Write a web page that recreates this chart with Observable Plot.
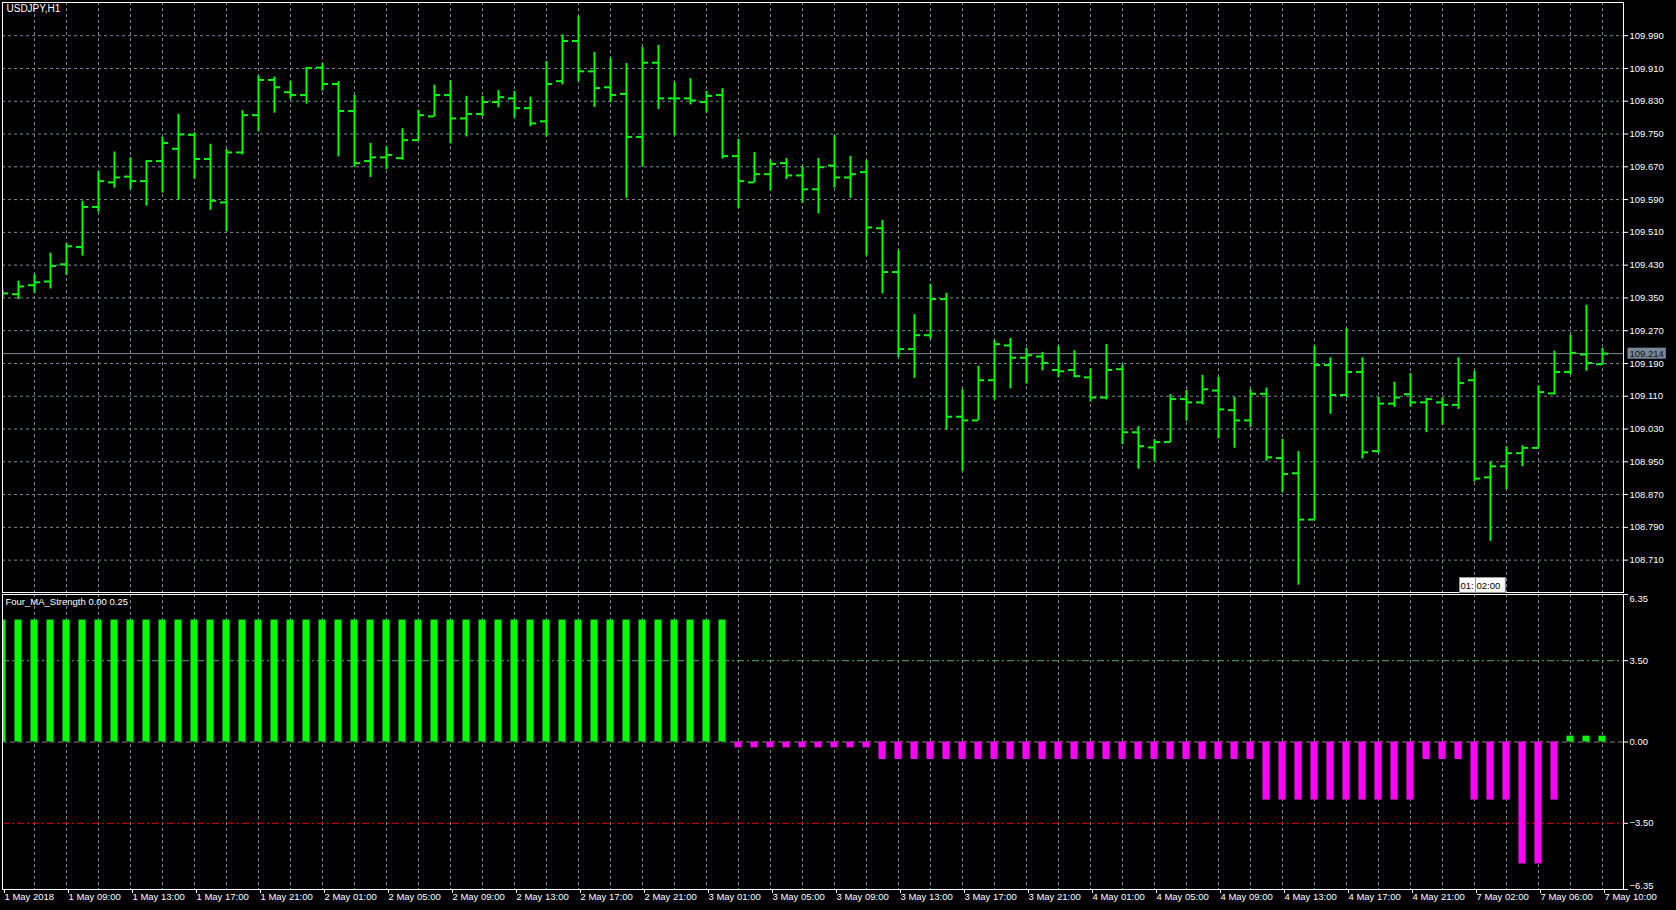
<!DOCTYPE html>
<html>
<head>
<meta charset="utf-8">
<script src="https://cdn.jsdelivr.net/npm/d3@7"></script>
<script src="https://cdn.jsdelivr.net/npm/@observablehq/plot@0.6"></script>
<style>
html, body { margin: 0; padding: 0; background: #000; width: 1676px; height: 910px; overflow: hidden; }
#wrap { position: relative; width: 1676px; height: 910px; background: #000; }
#wrap svg { position: absolute; left: 0; }
</style>
</head>
<body>
<div id="wrap"></div>
<script>
// ---------------- data ----------------
const symbolTitle = "USDJPY,H1";
const indicatorTitle = "Four_MA_Strength 0.00 0.25";

const opens = [
  109.362, 109.359, 109.381, 109.390, 109.432, 109.474, 109.572, 109.632, 109.646, 109.635,
  109.684, 109.714, 109.748, 109.689, 109.583, 109.705, 109.796, 109.882, 109.852, 109.845,
  109.912, 109.872, 109.806, 109.684, 109.693, 109.691, 109.735, 109.793, 109.845, 109.788,
  109.799, 109.828, 109.837, 109.813, 109.781, 109.879, 109.977, 109.903, 109.864, 109.848,
  109.743, 109.924, 109.837, 109.837, 109.828, 109.845, 109.696, 109.632, 109.652, 109.679,
  109.649, 109.615, 109.673, 109.644, 109.657, 109.520, 109.413, 109.225, 109.259, 109.347,
  109.060, 109.051, 109.149, 109.234, 109.204, 109.207, 109.174, 109.174, 109.156, 109.107,
  109.176, 109.022, 108.985, 108.998, 109.103, 109.095, 109.124, 109.076, 109.051, 109.116,
  108.959, 108.922, 108.809, 109.186, 109.113, 109.169, 108.976, 109.092, 109.115, 109.095,
  109.095, 109.089, 109.149, 108.912, 108.939, 108.971, 108.984, 109.117, 109.169, 109.212,
  109.188
];
const highs = [
  109.369, 109.391, 109.407, 109.459, 109.482, 109.586, 109.658, 109.706, 109.692, 109.685,
  109.742, 109.798, 109.753, 109.725, 109.712, 109.807, 109.892, 109.889, 109.878, 109.912,
  109.922, 109.878, 109.844, 109.727, 109.719, 109.763, 109.808, 109.869, 109.880, 109.842,
  109.842, 109.856, 109.854, 109.840, 109.927, 109.992, 110.038, 109.949, 109.935, 109.922,
  109.961, 109.966, 109.876, 109.885, 109.854, 109.861, 109.737, 109.705, 109.687, 109.690,
  109.671, 109.690, 109.746, 109.695, 109.686, 109.539, 109.466, 109.309, 109.383, 109.361,
  109.126, 109.183, 109.246, 109.251, 109.227, 109.217, 109.232, 109.221, 109.177, 109.236,
  109.187, 109.036, 109.004, 109.114, 109.124, 109.161, 109.156, 109.107, 109.126, 109.130,
  109.005, 108.975, 109.233, 109.204, 109.275, 109.204, 109.107, 109.144, 109.165, 109.105,
  109.106, 109.204, 109.171, 108.950, 108.986, 108.989, 109.135, 109.220, 109.259, 109.332,
  109.227
];
const lows = [
  109.350, 109.346, 109.361, 109.372, 109.405, 109.452, 109.559, 109.618, 109.615, 109.574,
  109.606, 109.589, 109.640, 109.564, 109.512, 109.699, 109.755, 109.801, 109.835, 109.823,
  109.855, 109.694, 109.668, 109.644, 109.663, 109.686, 109.734, 109.792, 109.726, 109.743,
  109.792, 109.814, 109.789, 109.768, 109.743, 109.870, 109.878, 109.815, 109.826, 109.593,
  109.670, 109.810, 109.746, 109.821, 109.801, 109.689, 109.568, 109.631, 109.611, 109.639,
  109.581, 109.555, 109.618, 109.593, 109.452, 109.360, 109.205, 109.154, 109.249, 109.027,
  108.927, 109.051, 109.101, 109.128, 109.140, 109.172, 109.155, 109.155, 109.096, 109.101,
  108.992, 108.932, 108.950, 108.997, 109.049, 109.089, 109.006, 108.983, 109.034, 108.951,
  108.874, 108.649, 108.808, 109.066, 109.106, 108.957, 108.970, 109.083, 109.084, 109.021,
  109.039, 109.078, 108.901, 108.756, 108.882, 108.938, 108.984, 109.113, 109.162, 109.171,
  109.187
];
const closes = [
  109.361, 109.378, 109.388, 109.428, 109.476, 109.572, 109.635, 109.644, 109.635, 109.684,
  109.728, 109.749, 109.689, 109.587, 109.705, 109.796, 109.882, 109.864, 109.845, 109.911,
  109.872, 109.806, 109.679, 109.693, 109.699, 109.735, 109.796, 109.845, 109.788, 109.799,
  109.828, 109.840, 109.813, 109.776, 109.872, 109.977, 109.903, 109.862, 109.845, 109.743,
  109.924, 109.837, 109.837, 109.832, 109.843, 109.696, 109.635, 109.652, 109.677, 109.649,
  109.615, 109.669, 109.644, 109.652, 109.522, 109.413, 109.225, 109.259, 109.347, 109.060,
  109.051, 109.149, 109.237, 109.204, 109.210, 109.191, 109.171, 109.159, 109.107, 109.174,
  109.022, 108.988, 108.998, 109.103, 109.095, 109.127, 109.078, 109.051, 109.116, 108.961,
  108.920, 108.809, 109.186, 109.113, 109.169, 108.973, 109.092, 109.107, 109.095, 109.103,
  109.089, 109.142, 108.909, 108.939, 108.971, 108.984, 109.120, 109.169, 109.216, 109.191,
  109.214
];
const strength = [
  5.25, 5.25, 5.25, 5.25, 5.25, 5.25, 5.25, 5.25, 5.25, 5.25,
  5.25, 5.25, 5.25, 5.25, 5.25, 5.25, 5.25, 5.25, 5.25, 5.25,
  5.25, 5.25, 5.25, 5.25, 5.25, 5.25, 5.25, 5.25, 5.25, 5.25,
  5.25, 5.25, 5.25, 5.25, 5.25, 5.25, 5.25, 5.25, 5.25, 5.25,
  5.25, 5.25, 5.25, 5.25, 5.25, 5.25, -0.25, -0.25, -0.25, -0.25,
  -0.25, -0.25, -0.25, -0.25, -0.25, -0.75, -0.75, -0.75, -0.75, -0.75,
  -0.75, -0.75, -0.75, -0.75, -0.75, -0.75, -0.75, -0.75, -0.75, -0.75,
  -0.75, -0.75, -0.75, -0.75, -0.75, -0.75, -0.75, -0.75, -0.75, -2.5,
  -2.5, -2.5, -2.5, -2.5, -2.5, -2.5, -2.5, -2.5, -2.5, -0.75,
  -0.75, -0.75, -2.5, -2.5, -2.5, -5.25, -5.25, -2.5, 0.25, 0.25,
  0.25
];
const priceTicks = [109.990, 109.910, 109.830, 109.750, 109.670, 109.590, 109.510, 109.430,
  109.350, 109.270, 109.190, 109.110, 109.030, 108.950, 108.870, 108.790, 108.710];
const strengthTicks = [6.35, 3.50, 0.00, -3.50, -6.35];
const levelUp = 3.50;
const levelDown = -3.50;
const timeLabels = [
  "1 May 2018", "1 May 09:00", "1 May 13:00", "1 May 17:00", "1 May 21:00",
  "2 May 01:00", "2 May 05:00", "2 May 09:00", "2 May 13:00", "2 May 17:00", "2 May 21:00",
  "3 May 01:00", "3 May 05:00", "3 May 09:00", "3 May 13:00", "3 May 17:00", "3 May 21:00",
  "4 May 01:00", "4 May 05:00", "4 May 09:00", "4 May 13:00", "4 May 17:00", "4 May 21:00",
  "7 May 02:00", "7 May 06:00", "7 May 10:00"
];
const labelEvery = 4;   // one time label every 4 hourly bars
const gridEvery = 2;    // one vertical grid line every 2 bars
const lastPrice = 109.214;
const markerBars = [91, 92];
const markerLabels = ["01:", "02:00"];  // the first tag is cut off by the second one

// ---------------- build ----------------
const bars = opens.map((o, i) => ({i, open: o, high: highs[i], low: lows[i], close: closes[i]}));
const sdata = strength.map((v, i) => ({i, v}));
const markers = markerBars.map((b, k) => ({i: b, label: markerLabels[k]}));
const labelIdx = timeLabels.map((t, k) => k * labelEvery);
const gridIdx = d3.range(gridEvery, bars.length, gridEvery);

const W = 1676;
const xDomain = [0, 101.3125];
const yPriceDomain = [108.631, 110.071];
const GRID = "#778899";
const BULL = "#00ff00";
const BEAR = "#ff00ff";
const FONT = "'Liberation Sans', Arial, sans-serif";
const tickHalf = 0.375;
const barHalf = 0.22;
const fmtPrice = d3.format(".3f");
const fmtStrength = d3.format(".2f");

const wrap = document.getElementById("wrap");

const price = Plot.plot({
  width: W, height: 593,
  marginLeft: 2, marginRight: 53, marginTop: 2, marginBottom: 1,
  style: {background: "#000", color: "#fff", fontFamily: FONT, fontSize: "9.5px", overflow: "visible"},
  x: {domain: xDomain, axis: null},
  y: {domain: yPriceDomain},
  marks: [
    Plot.ruleY(priceTicks, {stroke: GRID, strokeDasharray: "3,3"}),
    Plot.ruleX(gridIdx, {stroke: GRID, strokeDasharray: "3,3"}),
    Plot.ruleY([lastPrice], {stroke: GRID}),
    Plot.ruleX(bars, {x: "i", y1: "low", y2: "high", stroke: BULL, strokeWidth: 2, clip: true}),
    Plot.ruleY(bars, {y: "open", x1: d => d.i - tickHalf, x2: "i", stroke: BULL, strokeWidth: 2, clip: true}),
    Plot.ruleY(bars, {y: "close", x1: "i", x2: d => d.i + tickHalf, stroke: BULL, strokeWidth: 2, clip: true}),
    Plot.frame({stroke: "#fff"}),
    Plot.axisY(priceTicks, {anchor: "right", tickSize: 4, tickPadding: 2, tickFormat: fmtPrice, fontSize: 9.5, label: null}),
    Plot.text([symbolTitle], {frameAnchor: "top-left", lineAnchor: "top", dx: 4, dy: 2, fill: "#fff", fontSize: 10}),
    Plot.text([lastPrice], {x: () => xDomain[1], y: d => d, text: d => fmtPrice(d), textAnchor: "start", dx: 6, fill: "#111"}),
    Plot.text(markers, {x: "i", y: () => yPriceDomain[0], text: "label", textAnchor: "start", lineAnchor: "bottom", dx: 2, dy: -4, fill: "#000"})
  ]
});
price.style.top = "0px";
wrap.appendChild(price);

const ind = Plot.plot({
  width: W, height: 317,
  marginLeft: 2, marginRight: 53, marginTop: 1, marginBottom: 21,
  style: {background: "#000", color: "#fff", fontFamily: FONT, fontSize: "9.5px", overflow: "visible"},
  x: {domain: xDomain},
  y: {domain: [strengthTicks[4], strengthTicks[0]], axis: null},
  color: {type: "identity"},
  marks: [
    Plot.ruleX(gridIdx, {stroke: GRID, strokeDasharray: "3,3"}),
    Plot.ruleY([levelUp], {stroke: "#52a583", strokeDasharray: "7,3,2,3"}),
    Plot.ruleY([levelDown], {stroke: "#e00000", strokeDasharray: "7,3,2,3"}),
    Plot.ruleY([0], {stroke: "#808080", strokeDasharray: "5,3"}),
    Plot.rectY(sdata, {x1: d => d.i - barHalf, x2: d => d.i + barHalf, y: "v", fill: d => d.v >= 0 ? BULL : BEAR, clip: true}),
    Plot.frame({stroke: "#fff"}),
    Plot.axisX(labelIdx, {anchor: "bottom", tickSize: 4, tickPadding: 0, textAnchor: "start", dx: 2, tickFormat: d => timeLabels[d / labelEvery], fontSize: 9.5, label: null}),
    Plot.axisY(strengthTicks, {anchor: "right", tickSize: 4, tickFormat: () => "", label: null}),
    Plot.text(strengthTicks.filter(v => Math.abs(v) < 6), {x: () => xDomain[1], y: d => d, text: d => fmtStrength(d), textAnchor: "start", dx: 6, fill: "#fff"}),
    Plot.text([strengthTicks[0]], {x: () => xDomain[1], y: d => d, text: d => fmtStrength(d), textAnchor: "start", lineAnchor: "top", dx: 6, dy: 1, fill: "#fff"}),
    Plot.text([strengthTicks[4]], {x: () => xDomain[1], y: d => d, text: d => fmtStrength(d), textAnchor: "start", lineAnchor: "bottom", dx: 6, dy: -1, fill: "#fff"}),
    Plot.text([indicatorTitle], {frameAnchor: "top-left", lineAnchor: "top", dx: 3, dy: 4, fill: "#fff", fontSize: 9.5})
  ]
});
ind.style.top = "593px";
wrap.appendChild(ind);

// background boxes behind label texts, sized from the rendered text
function boxBehind(svg, content, fill, stroke, padL, padR, padT, padB) {
  Array.from(svg.querySelectorAll("text")).filter(t => t.textContent === content).forEach(t => {
    const b = t.getBBox();
    const r = document.createElementNS("http://www.w3.org/2000/svg", "rect");
    r.setAttribute("x", b.x - padL);
    r.setAttribute("y", b.y - padT);
    r.setAttribute("width", b.width + padL + padR);
    r.setAttribute("height", b.height + padT + padB);
    r.setAttribute("fill", fill);
    if (stroke) { r.setAttribute("stroke", stroke); r.setAttribute("stroke-width", 1); }
    const tr = t.getAttribute("transform");
    if (tr) r.setAttribute("transform", tr);
    t.parentNode.insertBefore(r, t);
  });
}
boxBehind(price, fmtPrice(lastPrice), "#778899", null, 2, 2, 0, 0);
markerLabels.forEach(l => boxBehind(price, l, "#ffffff", "#999", 1, 5, 2, 2));
</script>
</body>
</html>
